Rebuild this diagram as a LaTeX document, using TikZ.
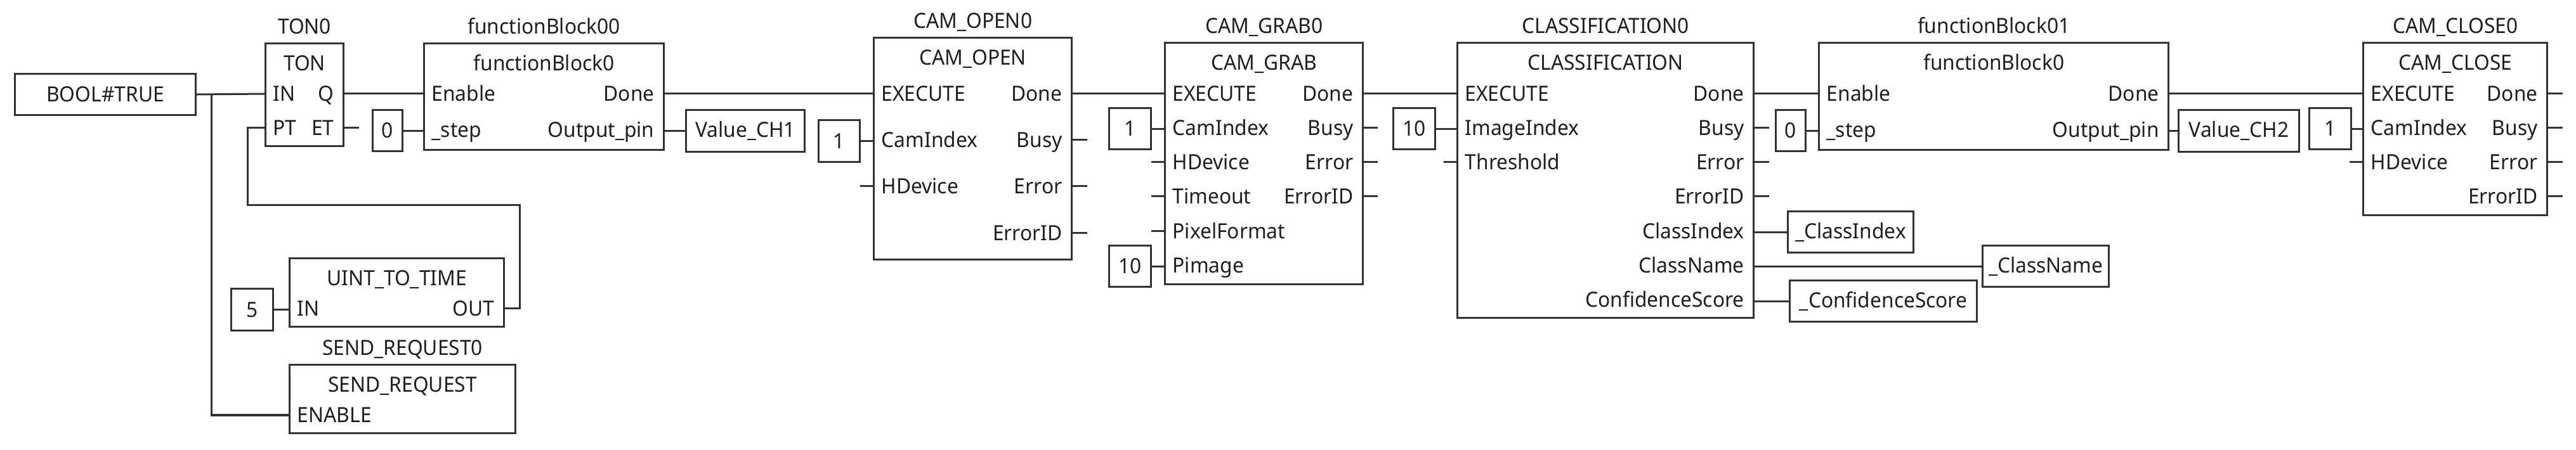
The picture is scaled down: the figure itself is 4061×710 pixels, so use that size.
\documentclass[tikz,border=0pt]{standalone}
\usepackage{fontspec}
\setmainfont[FakeStretch=0.96]{Noto Sans}
\usetikzlibrary{positioning}

\begin{document}
\begin{tikzpicture}[
    x=0.01cm, y=-0.01cm,
    every node/.style={font=\fontsize{9.4}{11}\selectfont, text=black!88},
    plain/.style={inner sep=0pt, text height=6.7pt, text depth=0pt},
    fblock/.style={rectangle, draw=black!80, line width=0.03cm, anchor=north west, inner sep=0pt},
    varbox/.style={rectangle, draw=black!80, line width=0.03cm, anchor=north west, inner sep=0pt, align=center},
    inst/.style={plain},
    ftitle/.style={plain},
    pinin/.style={plain, anchor=west, xshift=0.13cm},
    pinout/.style={plain, anchor=east, xshift=-0.16cm},
    wire/.style={draw=black!80, line width=0.03cm}
]
\useasboundingbox (0,0) rectangle (4061,710);

% Start value
\node[varbox, minimum width=2.85cm, minimum height=0.65cm] (bool) at (22,115) {BOOL\#TRUE};

% Timer
\node[fblock, minimum width=1.23cm, minimum height=1.62cm] (ton) at (417,67) {};
\node[inst, above=0.13cm of ton] (ton_inst) {TON0};
\node[ftitle, below=0.2cm of ton.north] (ton_title) {TON};
\node[pinin] (ton_in) at (ton.west |- 0,148) {IN};
\node[pinin] (ton_pt) at (ton.west |- 0,202) {PT};
\node[pinout] (ton_q) at (ton.east |- 0,148) {Q};
\node[pinout] (ton_et) at (ton.east |- 0,202) {ET};

% First function block
\node[fblock, minimum width=3.78cm, minimum height=1.68cm] (fb00) at (667,67) {};
\node[inst, above=0.13cm of fb00] (fb00_inst) {functionBlock00};
\node[ftitle, below=0.2cm of fb00.north] (fb00_title) {functionBlock0};
\node[pinin] (fb00_en) at (fb00.west |- 0,148) {Enable};
\node[pinin] (fb00_step) at (fb00.west |- 0,205) {\_step};
\node[pinout] (fb00_done) at (fb00.east |- 0,148) {Done};
\node[pinout] (fb00_out) at (fb00.east |- 0,205) {Output\_pin};
\node[varbox, minimum width=0.47cm, minimum height=0.65cm] (k_fb00) at (586,172) {0};
\node[varbox, minimum width=1.87cm, minimum height=0.66cm] (val1) at (1080,172) {Value\_CH1};

% Time conversion
\node[fblock, minimum width=3.38cm, minimum height=1.08cm] (uint) at (455,406) {};
\node[ftitle, below=0.2cm of uint.north] (uint_title) {UINT\_TO\_TIME};
\node[pinin] (uint_in) at (uint.west |- 0,487) {IN};
\node[pinout] (uint_out) at (uint.east |- 0,487) {OUT};
\node[varbox, minimum width=0.66cm, minimum height=0.66cm] (k_uint) at (363,454) {5};

% Request block
\node[fblock, minimum width=3.56cm, minimum height=1.08cm] (send) at (455,574) {};
\node[inst, above=0.13cm of send] (send_inst) {SEND\_REQUEST0};
\node[ftitle, below=0.2cm of send.north] (send_title) {SEND\_REQUEST};
\node[pinin] (send_en) at (send.west |- 0,655) {ENABLE};

% Camera open
\node[fblock, minimum width=3.12cm, minimum height=3.5cm] (open) at (1376,58) {};
\node[inst, above=0.13cm of open] (open_inst) {CAM\_OPEN0};
\node[ftitle, below=0.2cm of open.north] (open_title) {CAM\_OPEN};
\node[pinin] (open_ex) at (open.west |- 0,148) {EXECUTE};
\node[pinin] (open_cam) at (open.west |- 0,221) {CamIndex};
\node[pinin] (open_hd) at (open.west |- 0,294) {HDevice};
\node[pinout] (open_done) at (open.east |- 0,148) {Done};
\node[pinout] (open_busy) at (open.east |- 0,221) {Busy};
\node[pinout] (open_err) at (open.east |- 0,294) {Error};
\node[pinout] (open_id) at (open.east |- 0,368) {ErrorID};
\node[varbox, minimum width=0.65cm, minimum height=0.66cm] (k_open) at (1289,188) {1};

% Camera grab
\node[fblock, minimum width=3.12cm, minimum height=3.8cm] (grab) at (1835,66.5) {};
\node[inst, above=0.13cm of grab] (grab_inst) {CAM\_GRAB0};
\node[ftitle, below=0.2cm of grab.north] (grab_title) {CAM\_GRAB};
\node[pinin] (grab_ex) at (grab.west |- 0,148) {EXECUTE};
\node[pinin] (grab_cam) at (grab.west |- 0,202) {CamIndex};
\node[pinin] (grab_hd) at (grab.west |- 0,256) {HDevice};
\node[pinin] (grab_to) at (grab.west |- 0,310) {Timeout};
\node[pinin] (grab_pf) at (grab.west |- 0,365) {PixelFormat};
\node[pinin] (grab_pi) at (grab.west |- 0,419) {Pimage};
\node[pinout] (grab_done) at (grab.east |- 0,148) {Done};
\node[pinout] (grab_busy) at (grab.east |- 0,202) {Busy};
\node[pinout] (grab_err) at (grab.east |- 0,256) {Error};
\node[pinout] (grab_id) at (grab.east |- 0,310) {ErrorID};
\node[varbox, minimum width=0.66cm, minimum height=0.65cm] (k_grab) at (1747,169) {1};
\node[varbox, minimum width=0.66cm, minimum height=0.65cm] (k_pimage) at (1747,386) {10};

% Classification
\node[fblock, minimum width=4.67cm, minimum height=4.335cm] (class) at (2296,66.5) {};
\node[inst, above=0.13cm of class] (class_inst) {CLASSIFICATION0};
\node[ftitle, below=0.2cm of class.north] (class_title) {CLASSIFICATION};
\node[pinin] (class_ex) at (class.west |- 0,148) {EXECUTE};
\node[pinin] (class_img) at (class.west |- 0,202) {ImageIndex};
\node[pinin] (class_th) at (class.west |- 0,256) {Threshold};
\node[pinout] (class_done) at (class.east |- 0,148) {Done};
\node[pinout] (class_busy) at (class.east |- 0,202) {Busy};
\node[pinout] (class_err) at (class.east |- 0,256) {Error};
\node[pinout] (class_id) at (class.east |- 0,310) {ErrorID};
\node[pinout] (class_ci) at (class.east |- 0,365) {ClassIndex};
\node[pinout] (class_cn) at (class.east |- 0,419) {ClassName};
\node[pinout] (class_cs) at (class.east |- 0,473) {ConfidenceScore};
\node[varbox, minimum width=0.66cm, minimum height=0.65cm] (k_class) at (2195,169) {10};
\node[varbox, minimum width=1.98cm, minimum height=0.65cm] (v_ci) at (2817,332) {\_ClassIndex};
\node[varbox, minimum width=1.99cm, minimum height=0.65cm] (v_cn) at (3124,386) {\_ClassName};
\node[varbox, minimum width=2.95cm, minimum height=0.65cm] (v_cs) at (2820,441) {\_ConfidenceScore};

% Second function block
\node[fblock, minimum width=5.51cm, minimum height=1.68cm] (fb01) at (2866,66.5) {};
\node[inst, above=0.13cm of fb01] (fb01_inst) {functionBlock01};
\node[ftitle, below=0.2cm of fb01.north] (fb01_title) {functionBlock0};
\node[pinin] (fb01_en) at (fb01.west |- 0,148) {Enable};
\node[pinin] (fb01_step) at (fb01.west |- 0,205) {\_step};
\node[pinout] (fb01_done) at (fb01.east |- 0,148) {Done};
\node[pinout] (fb01_out) at (fb01.east |- 0,205) {Output\_pin};
\node[varbox, minimum width=0.47cm, minimum height=0.65cm] (k_fb01) at (2798,172) {0};
\node[varbox, minimum width=1.9cm, minimum height=0.66cm] (val2) at (3433,172) {Value\_CH2};

% Camera close
\node[fblock, minimum width=2.9cm, minimum height=2.71cm] (close) at (3724,66.5) {};
\node[inst, above=0.13cm of close] (close_inst) {CAM\_CLOSE0};
\node[ftitle, below=0.2cm of close.north] (close_title) {CAM\_CLOSE};
\node[pinin] (close_ex) at (close.west |- 0,148) {EXECUTE};
\node[pinin] (close_cam) at (close.west |- 0,202) {CamIndex};
\node[pinin] (close_hd) at (close.west |- 0,256) {HDevice};
\node[pinout] (close_done) at (close.east |- 0,148) {Done};
\node[pinout] (close_busy) at (close.east |- 0,202) {Busy};
\node[pinout] (close_err) at (close.east |- 0,256) {Error};
\node[pinout] (close_id) at (close.east |- 0,310) {ErrorID};
\node[varbox, minimum width=0.66cm, minimum height=0.65cm] (k_close) at (3639,169) {1};

% Bends of the wires
\coordinate (tap) at (333,148);
\coordinate (ptdrop) at (390,324);
\coordinate (ptrise) at (819,324);

% Main chain
\draw[wire] (bool.east) -- (ton.west |- ton_in);
\draw[wire] (ton.east |- ton_q) -- (fb00.west |- fb00_en);
\draw[wire] (fb00.east |- fb00_done) -- (open.west |- open_ex);
\draw[wire] (open.east |- open_done) -- (grab.west |- grab_ex);
\draw[wire] (grab.east |- grab_done) -- (class.west |- class_ex);
\draw[wire] (class.east |- class_done) -- (fb01.west |- fb01_en);
\draw[wire] (fb01.east |- fb01_done) -- (close.west |- close_ex);

% Side branches
\draw[wire] (tap) |- (send.west |- send_en);
\draw[wire] (uint.east |- uint_out) -| (ptrise) -- (ptdrop) |- (ton.west |- ton_pt);

% Constants and variables
\draw[wire] (k_fb00.east) -- (fb00.west |- k_fb00);
\draw[wire] (k_uint.east) -- (uint.west |- k_uint);
\draw[wire] (k_open.east) -- (open.west |- k_open);
\draw[wire] (k_grab.east) -- (grab.west |- k_grab);
\draw[wire] (k_pimage.east) -- (grab.west |- k_pimage);
\draw[wire] (k_class.east) -- (class.west |- k_class);
\draw[wire] (k_fb01.east) -- (fb01.west |- k_fb01);
\draw[wire] (k_close.east) -- (close.west |- k_close);
\draw[wire] (fb00.east |- val1) -- (val1.west);
\draw[wire] (fb01.east |- val2) -- (val2.west);
\draw[wire] (class.east |- v_ci) -- (v_ci.west);
\draw[wire] (class.east |- v_cn) -- (v_cn.west);
\draw[wire] (class.east |- v_cs) -- (v_cs.west);

% Open pins
\draw[wire] (ton.east |- ton_et) -- ++(23,0) coordinate (ton_et_end);
\draw[wire] (open.west |- open_hd) -- ++(-20,0) coordinate (open_hd_end);
\draw[wire] (open.east |- open_busy) -- ++(23,0) coordinate (open_busy_end);
\draw[wire] (open.east |- open_err) -- ++(23,0) coordinate (open_err_end);
\draw[wire] (open.east |- open_id) -- ++(23,0) coordinate (open_id_end);
\draw[wire] (grab.west |- grab_hd) -- ++(-20,0) coordinate (grab_hd_end);
\draw[wire] (grab.west |- grab_to) -- ++(-20,0) coordinate (grab_to_end);
\draw[wire] (grab.west |- grab_pf) -- ++(-20,0) coordinate (grab_pf_end);
\draw[wire] (grab.east |- grab_busy) -- ++(22,0) coordinate (grab_busy_end);
\draw[wire] (grab.east |- grab_err) -- ++(22,0) coordinate (grab_err_end);
\draw[wire] (grab.east |- grab_id) -- ++(22,0) coordinate (grab_id_end);
\draw[wire] (class.west |- class_th) -- ++(-20,0) coordinate (class_th_end);
\draw[wire] (class.east |- class_busy) -- ++(23,0) coordinate (class_busy_end);
\draw[wire] (class.east |- class_err) -- ++(23,0) coordinate (class_err_end);
\draw[wire] (class.east |- class_id) -- ++(23,0) coordinate (class_id_end);
\draw[wire] (close.west |- close_hd) -- ++(-20,0) coordinate (close_hd_end);
\draw[wire] (close.east |- close_done) -- ++(23,0) coordinate (close_done_end);
\draw[wire] (close.east |- close_busy) -- ++(23,0) coordinate (close_busy_end);
\draw[wire] (close.east |- close_err) -- ++(23,0) coordinate (close_err_end);
\draw[wire] (close.east |- close_id) -- ++(23,0) coordinate (close_id_end);

\end{tikzpicture}
\end{document}
